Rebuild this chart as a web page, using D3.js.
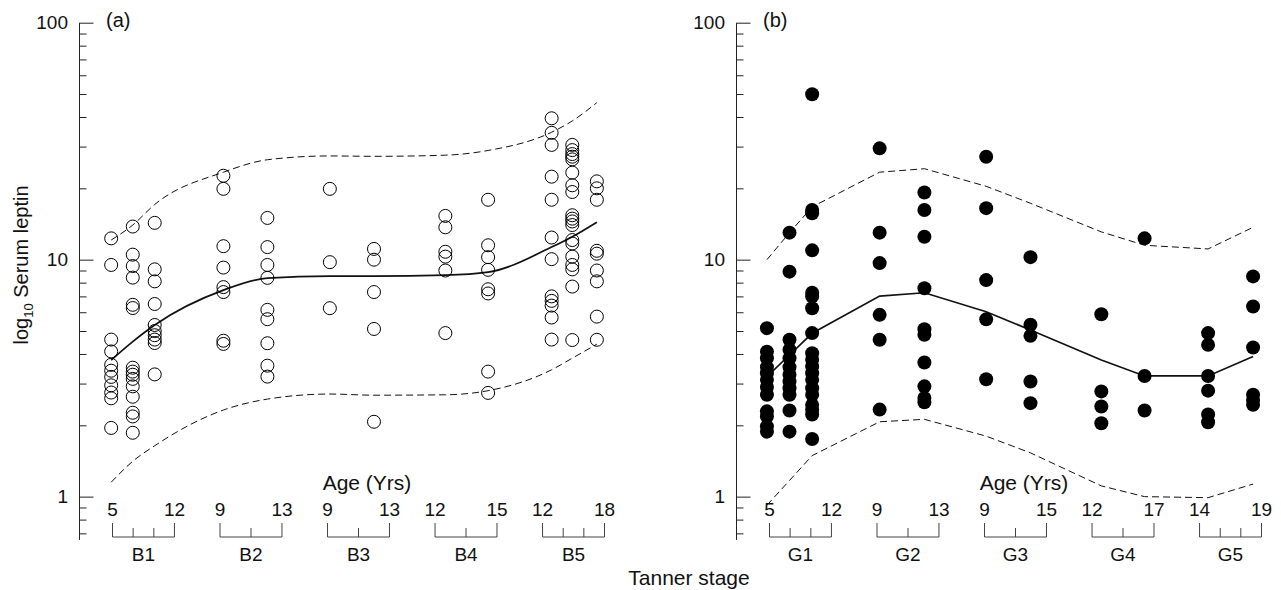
<!DOCTYPE html>
<html><head><meta charset="utf-8">
<script src="https://cdn.jsdelivr.net/npm/d3@7"></script>
<style>
body{margin:0;background:#fff}
svg text{font-family:"Liberation Sans", Arial, Helvetica, sans-serif;fill:#111}
</style>
</head><body>
<svg id="c" width="1281" height="590"></svg>
<script>
// ---------------- DATA ----------------
const stagesA = ["B1","B2","B3","B4","B5"];
const stagesB = ["G1","G2","G3","G4","G5"];
const ageRangeA = [[5,12],[9,13],[9,13],[12,15],[12,18]];
const ageRangeB = [[5,12],[9,13],[9,15],[12,17],[14,19]];
const innerTicksA = [[7.33,9.67],[11],[11],[13.5],[14,16]];
const innerTicksB = [[7.33,9.67],[11],[12],[14.5],[15.67,17.33]];

// columns of observations (stage index, age)
const colStageA = [0,0,0,1,1,2,2,3,3,4,4,4];
const colAgeA   = [4.85,7.29,9.77,9.22,12.06,9.15,12.0,12.5,14.57,12.88,14.88,17.26];
const colStageB = [0,0,0,1,1,2,2,3,3,4,4];
const colAgeB   = [4.71,7.26,9.82,9.17,12.06,9.16,13.45,12.75,16.24,14.69,18.32];

// serum leptin values per column
const leptinA = [
  [12.3,9.5,4.6,4.1,3.6,3.4,3.2,2.95,2.75,2.6,1.95],
  [13.8,10.5,9.4,8.4,6.45,6.25,3.5,3.37,3.27,3.14,2.92,2.64,2.26,2.18,1.86],
  [14.3,9.1,8.1,6.5,5.3,5.0,4.8,4.6,4.45,3.28],
  [22.6,19.9,11.4,9.26,7.66,7.3,4.55,4.41],
  [15.0,11.3,9.5,8.38,6.14,5.61,4.44,3.57,3.21],
  [19.9,9.76,6.24],
  [11.1,10.0,7.3,5.1,2.07],
  [15.3,13.7,10.8,10.3,9.0,4.9],
  [17.9,11.5,10.25,9.06,7.5,7.2,3.37,2.74],
  [39.5,34.3,30.5,22.4,17.9,12.4,10.05,7.0,6.7,6.4,5.7,4.6],
  [30.5,29.0,27.9,27.2,26.5,23.3,20.6,19.3,15.4,14.9,14.5,14.0,12.1,11.7,10.3,9.5,9.1,7.7,4.58],
  [21.4,20.0,17.9,10.9,10.6,9.0,8.1,5.75,4.59]
];
const leptinB = [
  [5.14,4.09,3.84,3.52,3.32,3.11,2.90,2.69,2.29,2.18,1.98,1.88],
  [13.0,8.9,4.59,4.17,3.84,3.52,3.27,3.06,2.87,2.69,2.31,1.88],
  [49.9,16.2,15.7,10.95,7.25,7.0,6.24,4.9,4.03,3.78,3.54,3.32,3.11,2.87,2.69,2.44,2.33,2.22,1.75],
  [29.5,13.0,9.67,5.85,4.59,2.33],
  [19.2,16.2,12.5,7.58,5.09,4.82,3.68,2.92,2.61,2.50],
  [27.2,16.5,8.2,5.6,3.13],
  [10.25,5.31,4.77,3.06,2.48],
  [5.88,2.78,2.40,2.04],
  [12.3,3.23,2.31],
  [4.9,4.37,3.23,2.80,2.22,2.06],
  [8.5,6.34,4.26,2.69,2.56,2.44]
];

// reference curves (mean and limits) at each column
const meanA  = [3.77,4.51,5.30,7.44,8.36,8.52,8.52,8.60,8.86,11.3,12.5,14.4];
const upperA = [12.1,14.0,17.1,23.4,26.4,27.4,27.3,27.6,28.9,34.5,38.5,46.0];
const lowerA = [1.15,1.41,1.64,2.32,2.58,2.71,2.68,2.69,2.80,3.43,3.84,4.4];
const meanB  = [3.21,3.96,4.89,7.02,7.25,6.03,5.05,3.77,3.23,3.23,3.90];
const upperB = [10.0,13.0,16.7,23.4,24.2,20.4,17.3,13.1,11.5,11.1,13.7];
const lowerB = [0.92,1.17,1.49,2.07,2.12,1.80,1.53,1.11,1.0,0.99,1.13];

const majorTicks = [1,10,100];
const minorTicks = [0.7,0.8,0.9,2,3,4,5,6,7,8,9,20,30,40,50,60,70,80,90];

// ---------------- DRAW ----------------
const svg = d3.select("#c");
const yScale = d3.scaleLog().domain([0.66,100]).range([539.4,22.7]);

function drawPanel(cfg){
  const g = svg.append("g").attr("transform",`translate(${cfg.axisX},0)`);

  // y axis
  const major = d3.axisLeft(yScale).tickValues(majorTicks).tickFormat(d3.format("d"))
      .tickSizeInner(-14.5).tickSizeOuter(0).tickPadding(11);
  const minor = d3.axisLeft(yScale).tickValues(minorTicks).tickFormat("")
      .tickSizeInner(-7.5).tickSizeOuter(0);
  const gMinor = g.append("g").call(minor);
  gMinor.select(".domain").remove();
  gMinor.selectAll("line").attr("stroke","#222");
  const gMajor = g.append("g").call(major);
  gMajor.select(".domain").attr("stroke","#222");
  gMajor.selectAll("line").attr("stroke","#222");
  gMajor.selectAll("text").attr("font-size",19).attr("font-family",null).attr("fill","#111");
  gMajor.attr("font-family",null);

  // x layout: stage bands and age scales
  const band = d3.scaleBand().domain(cfg.stages).range([33.5,525.5]).paddingInner(0.4238).paddingOuter(0);
  const ageScales = cfg.stages.map((s,i)=> d3.scaleLinear().domain(cfg.ageRange[i]).range([band(s), band(s)+band.bandwidth()]));
  const colX = i => ageScales[cfg.colStage[i]](cfg.colAge[i]);

  // brackets
  const gb = g.append("g").attr("stroke","#444").attr("fill","none").attr("stroke-width",1);
  cfg.stages.forEach((s,i)=>{
    const x0 = band(s), x1 = band(s)+band.bandwidth();
    gb.append("path").attr("d",`M${x0},523V537H${x1}V523`);
    cfg.innerTicks[i].forEach(a=>{
      const x = ageScales[i](a);
      gb.append("line").attr("x1",x).attr("x2",x).attr("y1",528).attr("y2",537);
    });
    g.append("text").attr("x",x0).attr("y",516).attr("text-anchor","middle").attr("font-size",19).text(cfg.ageRange[i][0]);
    g.append("text").attr("x",x1).attr("y",516).attr("text-anchor","middle").attr("font-size",19).text(cfg.ageRange[i][1]);
    g.append("text").attr("x",(x0+x1)/2).attr("y",561).attr("text-anchor","middle").attr("font-size",19).text(s);
  });

  g.append("text").attr("x",288).attr("y",490).attr("text-anchor","middle").attr("font-size",21).text("Age (Yrs)");
  g.append("text").attr("x",27).attr("y",27).attr("font-size",20).text(cfg.tag);

  // curves
  const line = d3.line().x((d,i)=>colX(i)).y(d=>yScale(d)).curve(cfg.curve);
  g.append("path").datum(cfg.upper).attr("d",line).attr("fill","none").attr("stroke","#111").attr("stroke-width",1).attr("stroke-dasharray","7,4");
  g.append("path").datum(cfg.lower).attr("d",line).attr("fill","none").attr("stroke","#111").attr("stroke-width",1).attr("stroke-dasharray","7,4");
  g.append("path").datum(cfg.mean).attr("d",line).attr("fill","none").attr("stroke","#111").attr("stroke-width",1.7);

  // points
  const pts = cfg.values.flatMap((vals,i)=> vals.map(v=>({x:colX(i), v})));
  g.append("g").selectAll("circle").data(pts).join("circle")
    .attr("cx",d=>d.x).attr("cy",d=>yScale(d.v))
    .attr("r",cfg.filled?7:6.5)
    .attr("fill",cfg.filled?"#000":"none")
    .attr("stroke","#000").attr("stroke-width",cfg.filled?0:1);
}

drawPanel({axisX:79, stages:stagesA, ageRange:ageRangeA, innerTicks:innerTicksA,
  colStage:colStageA, colAge:colAgeA, values:leptinA,
  mean:meanA, upper:upperA, lower:lowerA, curve:d3.curveMonotoneX, filled:false, tag:"(a)"});
drawPanel({axisX:736, stages:stagesB, ageRange:ageRangeB, innerTicks:innerTicksB,
  colStage:colStageB, colAge:colAgeB, values:leptinB,
  mean:meanB, upper:upperB, lower:lowerB, curve:d3.curveLinear, filled:true, tag:"(b)"});

// y label
const yl = svg.append("text").attr("transform","translate(28,265) rotate(-90)")
  .attr("text-anchor","middle").attr("font-size",20);
yl.append("tspan").text("log");
yl.append("tspan").attr("font-size",13).attr("dy",5).text("10");
yl.append("tspan").attr("dy",-5).text(" Serum leptin");

svg.append("text").attr("x",689).attr("y",585).attr("text-anchor","middle").attr("font-size",21).text("Tanner stage");
</script>
</body></html>
